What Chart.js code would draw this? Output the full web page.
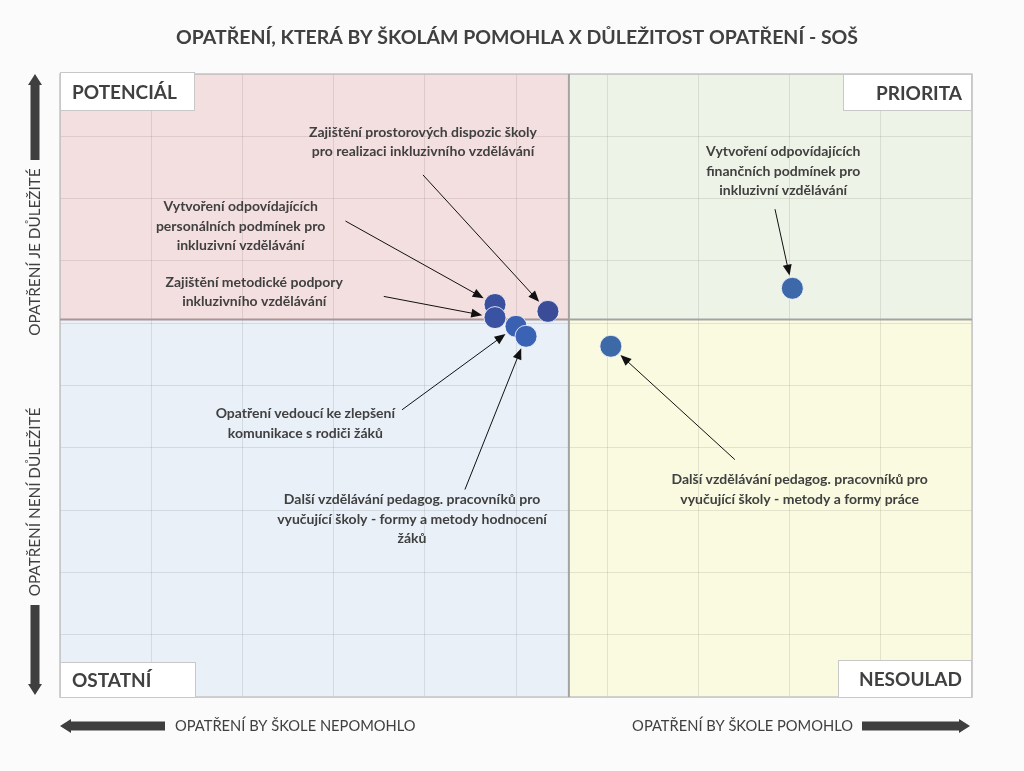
<!DOCTYPE html>
<html>
<head>
<meta charset="utf-8">
<script src="https://cdn.jsdelivr.net/npm/chart.js@4.4.1/dist/chart.umd.min.js"></script>
<style>
  html, body { margin: 0; padding: 0; background: #fbfbfb; }
  #wrap { width: 1024px; height: 771px; position: relative; }
</style>
</head>
<body>
<div id="wrap"><canvas id="quadrant"></canvas></div>
<script>
// data (axis units 0..10)
const measureNames = [
  'Vytvoření odpovídajících personálních podmínek pro inkluzivní vzdělávání',
  'Zajištění metodické podpory inkluzivního vzdělávání',
  'Zajištění prostorových dispozic školy pro realizaci inkluzivního vzdělávání',
  'Opatření vedoucí ke zlepšení komunikace s rodiči žáků',
  'Další vzdělávání pedagog. pracovníků pro vyučující školy - formy a metody hodnocení žáků',
  'Další vzdělávání pedagog. pracovníků pro vyučující školy - metody a formy práce',
  'Vytvoření odpovídajících finančních podmínek pro inkluzivní vzdělávání'
];
const helpValues = [4.77, 4.77, 5.35, 5.00, 5.11, 6.04, 8.03];
const importanceValues = [6.30, 6.09, 6.19, 5.95, 5.79, 5.63, 6.56];
const pointColors = ['#3a4f9e', '#3a52a2', '#3a4b97', '#3a60b2', '#3b63b5', '#3e69a7', '#3d69aa'];

const helpDivider = 5.58;
const importanceDivider = 6.06;

// callout text lines, label centre, arrow tail (axis units)
const calloutLines = [
  ['Vytvoření odpovídajících', 'personálních podmínek pro', 'inkluzivní vzdělávání'],
  ['Zajištění metodické podpory', 'inkluzivního vzdělávání'],
  ['Zajištění prostorových dispozic školy', 'pro realizaci inkluzivního vzdělávání'],
  ['Opatření vedoucí ke zlepšení', 'komunikace s rodiči žáků'],
  ['Další vzdělávání pedagog. pracovníků pro', 'vyučující školy - formy a metody hodnocení', 'žáků'],
  ['Další vzdělávání pedagog. pracovníků pro', 'vyučující školy - metody a formy práce'],
  ['Vytvoření odpovídajících', 'finančních podmínek pro', 'inkluzivní vzdělávání']
];
const calloutX = [1.98, 2.13, 3.98, 2.69, 3.86, 8.11, 7.93];
const calloutY = [7.56, 6.50, 8.91, 4.39, 2.85, 3.33, 8.44];
const arrowTailX = [3.13, 3.55, 3.98, 3.75, 4.44, 7.40, 7.84];
const arrowTailY = [7.64, 6.43, 8.38, 4.61, 3.33, 3.81, 7.83];

const quadrantNames = ['POTENCIÁL', 'PRIORITA', 'OSTATNÍ', 'NESOULAD'];

const textColor = '#404040';
const font = 'Lato, "Open Sans", sans-serif';

const quadrantPlugin = {
  id: 'quadrants',
  beforeDraw(chart) {
    const { ctx, chartArea: a, scales: { x, y } } = chart;
    const mx = x.getPixelForValue(helpDivider);
    const my = y.getPixelForValue(importanceDivider);
    ctx.save();
    ctx.fillStyle = '#f4dfe0';
    ctx.fillRect(a.left, a.top, mx - a.left, my - a.top);
    ctx.fillStyle = '#eef3e7';
    ctx.fillRect(mx, a.top, a.right - mx, my - a.top);
    ctx.fillStyle = '#e9f0f8';
    ctx.fillRect(a.left, my, mx - a.left, a.bottom - my);
    ctx.fillStyle = '#fafae1';
    ctx.fillRect(mx, my, a.right - mx, a.bottom - my);
    ctx.restore();
  },
  beforeDatasetsDraw(chart) {
    const { ctx, chartArea: a, scales: { x, y } } = chart;
    const mx = x.getPixelForValue(helpDivider);
    const my = y.getPixelForValue(importanceDivider);
    ctx.save();
    // outer frame
    ctx.strokeStyle = '#c4c4c4';
    ctx.lineWidth = 1.5;
    ctx.strokeRect(a.left, a.top, a.right - a.left, a.bottom - a.top);
    // dividers
    ctx.lineWidth = 2;
    ctx.strokeStyle = '#a3a3a3';
    ctx.beginPath();
    ctx.moveTo(mx, a.top);
    ctx.lineTo(mx, a.bottom);
    ctx.stroke();
    ctx.strokeStyle = '#a99595';
    ctx.beginPath();
    ctx.moveTo(a.left, my);
    ctx.lineTo(mx, my);
    ctx.stroke();
    ctx.strokeStyle = '#a3a3a3';
    ctx.beginPath();
    ctx.moveTo(mx, my);
    ctx.lineTo(a.right, my);
    ctx.stroke();

    // quadrant name boxes
    ctx.font = 'bold 19px ' + font;
    ctx.textBaseline = 'middle';
    const boxes = [
      { x: a.left, y: a.top - 2, w: 135, h: 39, align: 'left' },
      { x: a.right - 129, y: a.top, w: 129, h: 37, align: 'right' },
      { x: a.left, y: a.bottom - 35, w: 136, h: 36, align: 'left' },
      { x: a.right - 134, y: a.bottom - 37, w: 134, h: 38, align: 'right' }
    ];
    boxes.forEach((b, i) => {
      ctx.fillStyle = '#ffffff';
      ctx.fillRect(b.x, b.y, b.w, b.h);
      ctx.strokeStyle = '#c8c8c8';
      ctx.lineWidth = 1;
      ctx.strokeRect(b.x + 0.5, b.y + 0.5, b.w - 1, b.h - 1);
      ctx.fillStyle = textColor;
      ctx.textAlign = b.align;
      const tx = b.align === 'left' ? b.x + 12 : b.x + b.w - 10;
      ctx.fillText(quadrantNames[i], tx, b.y + b.h / 2 + 1);
    });

    // callouts
    ctx.font = 'bold 14px ' + font;
    ctx.textAlign = 'center';
    calloutLines.forEach((lines, i) => {
      const cx = x.getPixelForValue(calloutX[i]);
      const cy = y.getPixelForValue(calloutY[i]);
      const lh = 19.5;
      ctx.fillStyle = textColor;
      lines.forEach((t, k) => {
        ctx.fillText(t, cx, cy + (k - (lines.length - 1) / 2) * lh);
      });
      // arrow
      const tx = x.getPixelForValue(arrowTailX[i]);
      const ty = y.getPixelForValue(arrowTailY[i]);
      const px = x.getPixelForValue(helpValues[i]);
      const py = y.getPixelForValue(importanceValues[i]);
      const dx = px - tx, dy = py - ty;
      const len = Math.hypot(dx, dy);
      const ux = dx / len, uy = dy / len;
      const hx = px - ux * 13, hy = py - uy * 13;
      ctx.strokeStyle = '#111111';
      ctx.lineWidth = 1;
      ctx.beginPath();
      ctx.moveTo(tx, ty);
      ctx.lineTo(hx - ux * 8, hy - uy * 8);
      ctx.stroke();
      ctx.fillStyle = '#111111';
      ctx.beginPath();
      ctx.moveTo(hx, hy);
      ctx.lineTo(hx - ux * 11 - uy * 4.5, hy - uy * 11 + ux * 4.5);
      ctx.lineTo(hx - ux * 11 + uy * 4.5, hy - uy * 11 - ux * 4.5);
      ctx.closePath();
      ctx.fill();
    });
    ctx.restore();
  },
  afterDraw(chart) {
    const { ctx, chartArea: a } = chart;
    ctx.save();
    ctx.fillStyle = textColor;
    // title
    ctx.font = 'bold 19.5px ' + font;
    ctx.textAlign = 'center';
    ctx.textBaseline = 'middle';
    ctx.fillText('OPATŘENÍ, KTERÁ BY ŠKOLÁM POMOHLA X DŮLEŽITOST OPATŘENÍ - SOŠ', 517, 38);

    // bottom axis captions with block arrows
    const by = a.bottom + 29;
    ctx.font = '14.7px ' + font;
    ctx.textAlign = 'left';
    ctx.fillText('OPATŘENÍ BY ŠKOLE NEPOMOHLO', 175, by);
    ctx.textAlign = 'right';
    ctx.fillText('OPATŘENÍ BY ŠKOLE POMOHLO', 853, by);
    ctx.fillStyle = '#3f3f3f';
    blockArrow(ctx, 165, by, a.left, by);
    blockArrow(ctx, 862, by, a.right - 2, by);

    // left axis captions
    const lx = 35;
    ctx.font = '15.3px ' + font;
    ctx.save();
    ctx.translate(lx, 252);
    ctx.rotate(-Math.PI / 2);
    ctx.fillStyle = textColor;
    ctx.textAlign = 'center';
    ctx.fillText('OPATŘENÍ JE DŮLEŽITÉ', 0, 0);
    ctx.restore();
    ctx.save();
    ctx.translate(lx, 502);
    ctx.rotate(-Math.PI / 2);
    ctx.fillStyle = textColor;
    ctx.textAlign = 'center';
    ctx.fillText('OPATŘENÍ NENÍ DŮLEŽITÉ', 0, 0);
    ctx.restore();
    ctx.fillStyle = '#3f3f3f';
    blockArrow(ctx, lx, 160, lx, a.top);
    blockArrow(ctx, lx, 605, lx, a.bottom - 2);
    ctx.restore();
  }
};

function blockArrow(ctx, x0, y0, x1, y1) {
  const dx = x1 - x0, dy = y1 - y0;
  const len = Math.hypot(dx, dy);
  const ux = dx / len, uy = dy / len;
  const half = 4.5, headW = 7, headL = 11;
  const bx = x1 - ux * headL, by = y1 - uy * headL;
  ctx.beginPath();
  ctx.moveTo(x0 - uy * half, y0 + ux * half);
  ctx.lineTo(bx - uy * half, by + ux * half);
  ctx.lineTo(bx - uy * headW, by + ux * headW);
  ctx.lineTo(x1, y1);
  ctx.lineTo(bx + uy * headW, by - ux * headW);
  ctx.lineTo(bx + uy * half, by - ux * half);
  ctx.lineTo(x0 + uy * half, y0 - ux * half);
  ctx.closePath();
  ctx.fill();
}

const points = helpValues.map((v, i) => ({ x: v, y: importanceValues[i] }));

new Chart(document.getElementById('quadrant'), {
  type: 'scatter',
  data: {
    datasets: [{
      label: 'Opatření',
      data: points,
      pointRadius: 11,
      pointHoverRadius: 11,
      pointBackgroundColor: pointColors,
      pointBorderColor: 'rgba(255,255,255,0.8)',
      pointBorderWidth: 1
    }]
  },
  options: {
    responsive: true,
    maintainAspectRatio: false,
    animation: false,
    layout: { padding: { left: 60, right: 52, top: 74, bottom: 74 } },
    plugins: {
      legend: { display: false },
      tooltip: { enabled: false }
    },
    scales: {
      x: {
        min: 0, max: 10,
        ticks: { display: false, stepSize: 1 },
        grid: { color: 'rgba(0,0,0,0.09)', drawTicks: false },
        border: { display: false }
      },
      y: {
        min: 0, max: 10,
        ticks: { display: false, stepSize: 1 },
        grid: { color: 'rgba(0,0,0,0.09)', drawTicks: false },
        border: { display: false }
      }
    }
  },
  plugins: [quadrantPlugin]
});
</script>
</body>
</html>
